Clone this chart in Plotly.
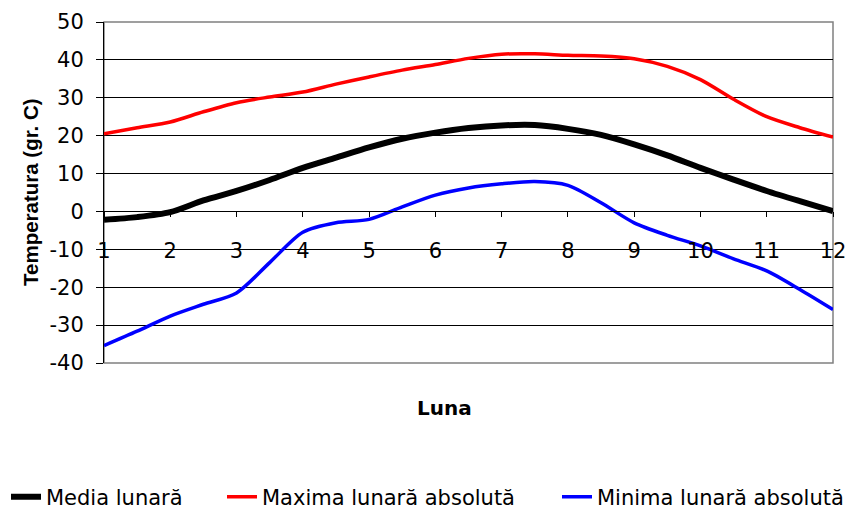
import plotly.graph_objects as go

luna = [1, 1.5, 2, 2.5, 3, 3.5, 4, 4.5, 5, 5.5, 6, 6.5, 7, 7.5, 8, 8.5, 9, 9.5, 10, 10.5, 11, 11.5, 12]
media = [-2.2, -1.5, -0.2, 2.9, 5.4, 8.3, 11.5, 14.2, 16.9, 19.2, 20.8, 22.0, 22.7, 22.8, 21.8, 20.2, 17.7, 14.8, 11.5, 8.4, 5.4, 2.7, 0.1]
maxima = [20.5, 22.1, 23.6, 26.3, 28.7, 30.2, 31.5, 33.6, 35.5, 37.3, 38.8, 40.4, 41.5, 41.6, 41.2, 41.0, 40.3, 38.3, 34.8, 29.6, 25.0, 22.1, 19.6]
minima = [-35.4, -31.6, -27.6, -24.5, -21.5, -13.5, -5.5, -3.0, -2.1, 1.2, 4.3, 6.2, 7.3, 7.9, 6.9, 2.3, -3.0, -6.3, -9.1, -12.5, -15.7, -20.6, -25.9]

x_tick_vals = list(range(1, 13))
x_tick_text = [str(v) for v in x_tick_vals]
y_tick_vals = list(range(-40, 60, 10))
y_tick_text = [str(v) for v in y_tick_vals]
names = ["Media lunară", "Maxima lunară absolută", "Minima lunară absolută"]

FONT = "DejaVu Sans"
FS = 21

# plot area in pixels
L, R, T, B = 104, 19, 22, 153
W, H = 852, 516
pw = W - L - R
ph = H - T - B

def px_x(p):
    return (p - L) / pw

def px_y(p):
    return (H - B - p) / ph

fig = go.Figure()
fig.add_trace(go.Scatter(x=luna, y=media, name=names[0], mode="lines", legend="legend",
                         line=dict(color="black", width=6, shape="spline", smoothing=0.8)))
fig.add_trace(go.Scatter(x=luna, y=maxima, name=names[1], mode="lines", legend="legend2",
                         line=dict(color="#ff0000", width=3.5, shape="spline", smoothing=0.8)))
fig.add_trace(go.Scatter(x=luna, y=minima, name=names[2], mode="lines", legend="legend3",
                         line=dict(color="#0000ff", width=3.5, shape="spline", smoothing=0.8)))

leg_common = dict(orientation="h", yanchor="middle", xanchor="left",
                  font=dict(family=FONT, size=FS), bgcolor="rgba(0,0,0,0)",
                  borderwidth=0, itemwidth=30)

fig.update_layout(
    width=W, height=H,
    margin=dict(l=L, r=R, t=T, b=B, autoexpand=False),
    paper_bgcolor="white", plot_bgcolor="white",
    font=dict(family=FONT, size=FS, color="black"),
    showlegend=True,
    legend=dict(x=px_x(6), y=px_y(497), **leg_common),
    legend2=dict(x=px_x(222), y=px_y(497), **leg_common),
    legend3=dict(x=px_x(557), y=px_y(497), **leg_common),
    xaxis=dict(range=[1, 12], tickmode="array", tickvals=x_tick_vals, ticktext=x_tick_text,
               anchor="free", position=40/90, showline=True, linecolor="black", linewidth=1,
               ticks="outside", ticklen=5, tickcolor="black", tickwidth=1,
               ticklabelstandoff=15, showgrid=False, zeroline=False, automargin=False,
               tickfont=dict(family=FONT, size=FS)),
    yaxis=dict(range=[-40, 50], tickmode="array", tickvals=y_tick_vals, ticktext=y_tick_text,
               showline=True, linecolor="black", linewidth=1,
               ticks="outside", ticklen=7, tickcolor="black", tickwidth=1,
               ticklabelstandoff=8, automargin=False,
               showgrid=True, gridcolor="black", gridwidth=1, zeroline=False,
               tickfont=dict(family=FONT, size=FS)),
    shapes=[dict(type="rect", xref="x domain", yref="y domain", x0=0, x1=1, y0=0, y1=1,
                 line=dict(color="#808080", width=1.5), layer="below")],
    annotations=[
        dict(text="<b>Luna</b>", x=px_x(444), y=px_y(408), xref="paper", yref="paper",
             xanchor="center", yanchor="middle",
             showarrow=False, font=dict(family=FONT, size=20)),
        dict(text="<b>Temperatura (gr. C)</b>", x=px_x(30), y=px_y(192), xref="paper",
             yref="paper", xanchor="center", yanchor="middle",
             showarrow=False, textangle=-90, font=dict(family="Liberation Sans", size=20.5)),
    ],
)

fig.write_html("out.html")
